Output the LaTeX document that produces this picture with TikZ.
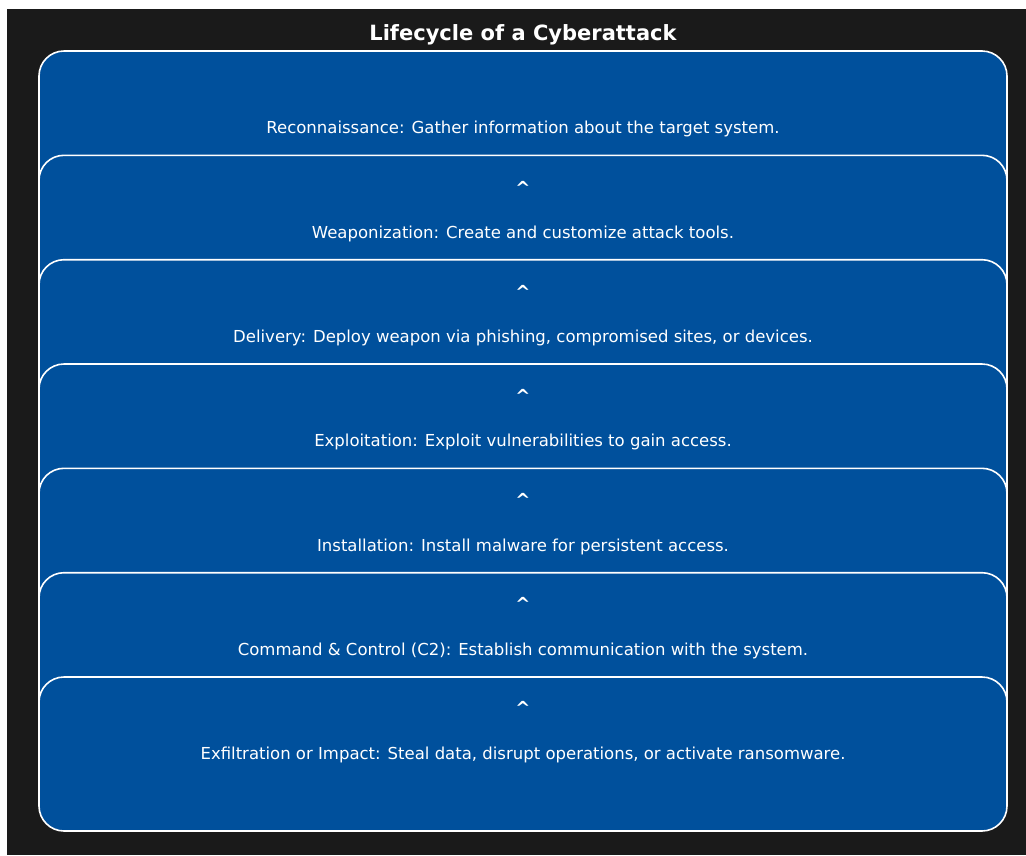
\documentclass[tikz,border=0pt]{standalone}
\usepackage{fontspec}
\setmainfont{DejaVu Sans}
\usetikzlibrary{positioning}
\definecolor{bgdark}{HTML}{1A1A1A}
\definecolor{stageblue}{HTML}{00509C}

\begin{document}
\begin{tikzpicture}[x=1pt, y=1pt,
  stage/.style={draw=white, fill=stageblue, rounded corners=25pt, line width=1.6pt,
                minimum width=968pt, minimum height=154pt, inner sep=0pt,
                text height=15.5pt, text depth=4pt,
                text=white, font=\fontsize{16.5}{19}\selectfont},
  caret/.style={text=white, inner sep=0pt, font=\bfseries\fontsize{18}{18}\selectfont},
  title/.style={text=white, inner sep=0pt, font=\bfseries\fontsize{21}{24}\selectfont}
]

% ===== Canvas =====
\useasboundingbox (0,0) rectangle (1026,-855);
\fill[white] (0,0) rectangle (1026,-855);
\fill[bgdark] (7,-9) rectangle (1026,-855);
\node[title] (ttl) at (523,-35) {Lifecycle of a Cyberattack};

% ===== Stages =====
\node[stage] (recon)    at (523,-128.0) {Reconnaissance: Gather information about the target system.};
\node[stage] (weapon)   at (523,-232.3) {Weaponization: Create and customize attack tools.};
\node[stage] (delivery) at (523,-336.7) {Delivery: Deploy weapon via phishing, compromised sites, or devices.};
\node[stage] (exploit)  at (523,-441.0) {Exploitation: Exploit vulnerabilities to gain access.};
\node[stage] (install)  at (523,-545.3) {Installation: Install malware for persistent access.};
\node[stage] (ctrl)     at (523,-649.7) {Command \& Control (C2): Establish communication with the system.};
\node[stage] (exfil)    at (523,-754.0) {Exfiltration or Impact: Steal data, disrupt operations, or activate ransomware.};

% ===== Carets between stages =====
\node[caret] (c1) at (523,-188) {\textasciicircum};
\node[caret] (c2) at (523,-292) {\textasciicircum};
\node[caret] (c3) at (523,-396) {\textasciicircum};
\node[caret] (c4) at (523,-500) {\textasciicircum};
\node[caret] (c5) at (523,-604) {\textasciicircum};
\node[caret] (c6) at (523,-708) {\textasciicircum};

\end{tikzpicture}
\end{document}
